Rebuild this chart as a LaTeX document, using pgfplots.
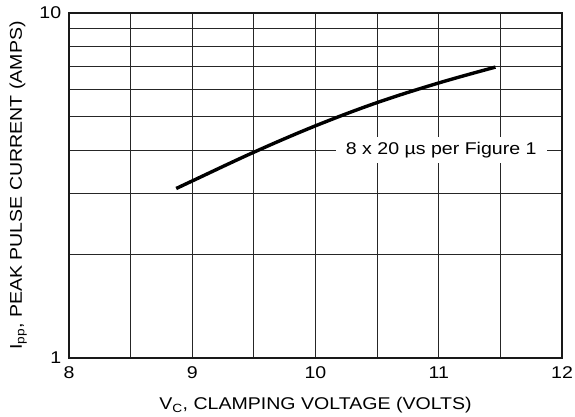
\documentclass[border=0pt]{standalone}
\usepackage{fontspec}
\setmainfont[FakeStretch=1.15]{Liberation Sans}
\usepackage{pgfplots}
\pgfplotsset{compat=1.18}

\begin{document}
\fontsize{17}{20}\selectfont
\begin{tikzpicture}
\begin{axis}[
  scale only axis,
  width=493pt, height=345pt,
  xmin=8, xmax=12,
  ymode=log, ymin=1, ymax=10,
  xtick={8,9,10,11,12},
  xticklabels={8,9,10,11,12},
  minor xtick={8.5,9.5,10.5,11.5},
  ytick={1,10},
  yticklabels={1,10},
  minor ytick={2,3,4,5,6,7,8,9},
  grid=both,
  major grid style={black!85, line width=0.9pt},
  minor grid style={black!85, line width=0.9pt},
  major tick length=0pt, minor tick length=0pt,
  axis line style={black!90, line width=1.7pt},
  tick label style={font=\fontsize{17}{20}\selectfont},
  xticklabel style={yshift=-3pt},
  yticklabel style={xshift=-2pt},
  xlabel={V\textsubscript{C}, CLAMPING VOLTAGE (VOLTS)},
  ylabel={I\textsubscript{pp}, PEAK PULSE CURRENT (AMPS)},
  label style={font=\fontsize{17}{20}\selectfont},
  xlabel style={yshift=-7pt},
  ylabel style={yshift=1pt},
  clip=false,
]
\addplot[black, line width=3.4pt, smooth, tension=0.6] coordinates {
  (8.87,3.10) (9.0,3.26) (9.5,3.95) (10.0,4.71) (10.5,5.50) (11.0,6.27) (11.46,6.97)
};
\node[fill=white, inner xsep=10pt, inner ysep=5pt] at (axis cs:11.02,4) {8 x 20 µs per Figure 1};
\coordinate (bl) at (rel axis cs:0,0);
\coordinate (tr) at (rel axis cs:1,1);
\end{axis}
\pgfresetboundingbox
\path ([shift={(-69pt,-58pt)}]bl) rectangle ([shift={(13pt,13pt)}]tr);
\end{tikzpicture}
\end{document}
